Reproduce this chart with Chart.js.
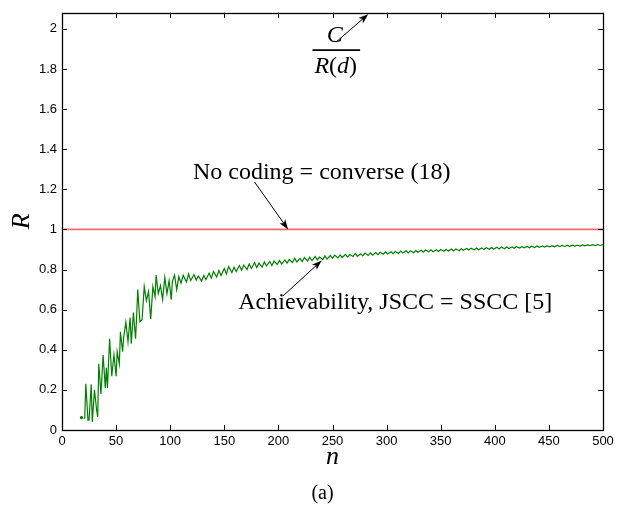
<!DOCTYPE html>
<html>
<head>
<meta charset="utf-8">
<script src="https://cdn.jsdelivr.net/npm/chart.js@4"></script>
<style>
  body { margin: 0; background: #fff; }
  #wrap { width: 630px; height: 510px; }
</style>
</head>
<body>
<div id="wrap"><canvas id="myChart" width="630" height="510"></canvas></div>
<script>
// achievability curve (n, R)
var nValues = [18, 19, 20, 21, 22, 24, 25, 27, 28, 30, 32, 33, 34, 36, 38, 40, 41, 42, 44, 46, 48, 50,
  51, 53, 54, 56, 57, 59, 61, 63, 64, 66, 68, 69, 70, 72, 74, 76, 78, 80, 82, 84, 86, 87, 89,
  91, 93, 95, 97, 99, 101, 102, 104, 106, 108, 110, 112, 115, 117, 119, 122, 124, 126, 129,
  131, 133, 136, 138, 140, 143, 145, 147, 150, 152, 154, 157, 159, 161, 164, 166, 168, 171,
  173, 175, 178, 180, 182, 185, 187, 189, 192, 194, 196, 199, 201, 203, 206, 208, 210, 213,
  215, 217, 220, 222, 224, 227, 229, 231, 234, 236, 238, 241, 243, 245, 248, 250, 252, 255,
  257, 259, 262, 264, 266, 269, 271, 273, 276, 278, 280, 283, 285, 287, 290, 292, 294, 297,
  299, 301, 304, 306, 308, 311, 313, 315, 318, 320, 322, 325, 327, 329, 332, 334, 336, 339,
  341, 343, 346, 348, 350, 353, 355, 357, 360, 362, 364, 367, 369, 371, 374, 376, 378, 381,
  383, 385, 388, 390, 392, 395, 397, 399, 402, 404, 406, 409, 411, 413, 416, 418, 420, 423,
  425, 427, 430, 432, 434, 437, 439, 441, 444, 446, 448, 451, 453, 455, 458, 460, 462, 465,
  467, 469, 472, 474, 476, 479, 481, 483, 486, 488, 490, 493, 495, 497, 500];
var rValues = [0.062, null, 0.057, 0.06, 0.23, 0.049, 0.05, 0.228, 0.04, 0.20, 0.10, 0.065, 0.33, 0.18, 0.374, 0.21, 0.31, 0.21, 0.455, 0.268, 0.375, 0.268,
  0.39, 0.33, 0.49, 0.39, 0.463, 0.537, 0.44, 0.56, 0.43, 0.585, 0.455, 0.57, 0.70, 0.54, 0.55, 0.715, 0.645, 0.69, 0.553, 0.715, 0.665, 0.772, 0.68,
  0.72, 0.65, 0.76, 0.68, 0.745, 0.65, 0.74, 0.772, 0.70, 0.765, 0.732, 0.772, 0.738, 0.778, 0.745, 0.775, 0.748, 0.768, 0.742,
  0.770, 0.750, 0.782, 0.757, 0.790, 0.762, 0.795, 0.770, 0.805, 0.778, 0.815, 0.785, 0.812, 0.790, 0.820, 0.796, 0.822, 0.800,
  0.828, 0.805, 0.835, 0.810, 0.832, 0.812, 0.838, 0.818, 0.840, 0.820, 0.842, 0.825, 0.845, 0.828, 0.848, 0.832, 0.850, 0.835,
  0.856, 0.838, 0.855, 0.840, 0.860, 0.843, 0.862, 0.845, 0.865, 0.848, 0.862, 0.850, 0.868, 0.852, 0.870, 0.856, 0.872, 0.858,
  0.873, 0.860, 0.876, 0.862, 0.875, 0.865, 0.880, 0.866, 0.879, 0.868, 0.882, 0.870, 0.884, 0.872, 0.885, 0.874, 0.886, 0.876,
  0.888, 0.878, 0.889, 0.879, 0.890, 0.880, 0.892, 0.882, 0.893, 0.883, 0.894, 0.884, 0.895, 0.886, 0.896, 0.887, 0.897, 0.888,
  0.898, 0.889, 0.899, 0.890, 0.900, 0.891, 0.900, 0.892, 0.902, 0.893, 0.903, 0.894, 0.904, 0.896, 0.905, 0.897, 0.906, 0.898,
  0.907, 0.899, 0.908, 0.900, 0.909, 0.901, 0.910, 0.902, 0.911, 0.903, 0.912, 0.904, 0.912, 0.905, 0.913, 0.906, 0.914, 0.907,
  0.915, 0.908, 0.915, 0.909, 0.916, 0.910, 0.917, 0.911, 0.918, 0.912, 0.918, 0.913, 0.919, 0.913, 0.920, 0.914, 0.920, 0.915,
  0.921, 0.916, 0.922, 0.916, 0.922, 0.917, 0.923, 0.918, 0.923, 0.919, 0.924, 0.919, 0.925, 0.920, 0.924];

// no coding = converse line
var conv_n = [0, 500];
var conv_r = [1, 1];

var xTickValues = [0, 50, 100, 150, 200, 250, 300, 350, 400, 450, 500];
var yTickValues = [0, 0.2, 0.4, 0.6, 0.8, 1, 1.2, 1.4, 1.6, 1.8, 2];

function pairs(xs, ys) {
  return xs.map(function (x, i) { return { x: x, y: ys[i] }; });
}

function arrow(ctx, x1, y1, x2, y2) {
  var ang = Math.atan2(y2 - y1, x2 - x1);
  var len = 10, w = 3.5;
  ctx.beginPath();
  ctx.moveTo(x1, y1);
  ctx.lineTo(x2 - Math.cos(ang) * len * 0.7, y2 - Math.sin(ang) * len * 0.7);
  ctx.stroke();
  ctx.beginPath();
  ctx.moveTo(x2, y2);
  ctx.lineTo(x2 - Math.cos(ang) * len - Math.sin(ang) * w, y2 - Math.sin(ang) * len + Math.cos(ang) * w);
  ctx.lineTo(x2 - Math.cos(ang) * len * 0.75, y2 - Math.sin(ang) * len * 0.75);
  ctx.lineTo(x2 - Math.cos(ang) * len + Math.sin(ang) * w, y2 - Math.sin(ang) * len - Math.cos(ang) * w);
  ctx.closePath();
  ctx.fill();
}

var serif = '"Liberation Serif", "Times New Roman", serif';
var sans = '"Liberation Sans", Arial, sans-serif';

var frame = {
  id: 'frame',
  afterDatasetsDraw: function (chart) {
    var ctx = chart.ctx, a = chart.chartArea;
    var xs = chart.scales.x, ys = chart.scales.y;
    var X = function (v) { return xs.getPixelForValue(v); };
    var Y = function (v) { return ys.getPixelForValue(v); };
    ctx.save();
    ctx.strokeStyle = '#000';
    ctx.fillStyle = '#000';
    ctx.lineWidth = 1;

    // inward ticks on all four sides
    ctx.beginPath();
    xs.ticks.forEach(function (t) {
      var px = Math.round(X(t.value)) + 0.5;
      ctx.moveTo(px, a.bottom); ctx.lineTo(px, a.bottom - 5);
      ctx.moveTo(px, a.top); ctx.lineTo(px, a.top + 5);
    });
    ys.ticks.forEach(function (t) {
      var py = Math.round(Y(t.value)) + 0.5;
      ctx.moveTo(a.left, py); ctx.lineTo(a.left + 5, py);
      ctx.moveTo(a.right, py); ctx.lineTo(a.right - 5, py);
    });
    ctx.stroke();
    ctx.lineWidth = 1.3;
    ctx.strokeRect(Math.round(a.left) + 0.5, Math.round(a.top) + 0.5,
      Math.round(a.right - a.left), Math.round(a.bottom - a.top));

    // annotations
    ctx.lineWidth = 1;
    ctx.textAlign = 'center';
    ctx.textBaseline = 'middle';
    ctx.font = '24px ' + serif;
    ctx.fillText('No coding = converse (18)', X(240), Y(1.284));
    arrow(ctx, X(178), Y(1.236), X(209), Y(1.0));
    ctx.fillText('Achievability, JSCC = SSCC [5]', X(308), Y(0.634));
    arrow(ctx, X(204), Y(0.667), X(240), Y(0.845));

    // C / R(d)
    ctx.font = 'italic 24px ' + serif;
    ctx.fillText('C', X(252), Y(1.967));
    ctx.lineWidth = 1.6;
    ctx.beginPath();
    ctx.moveTo(X(231.5), Y(1.894));
    ctx.lineTo(X(275.5), Y(1.894));
    ctx.stroke();
    var parts = [['R', 'italic '], ['(', ''], ['d', 'italic '], [')', '']];
    var total = 0;
    parts.forEach(function (p) { ctx.font = p[1] + '24px ' + serif; total += ctx.measureText(p[0]).width; });
    var cx = X(253) - total / 2;
    ctx.textAlign = 'left';
    parts.forEach(function (p) {
      ctx.font = p[1] + '24px ' + serif;
      ctx.fillText(p[0], cx, Y(1.81));
      cx += ctx.measureText(p[0]).width;
    });
    ctx.lineWidth = 1;
    arrow(ctx, X(253.5), Y(1.935), X(283), Y(2.073));

    // figure caption
    ctx.textAlign = 'center';
    ctx.font = '20px ' + serif;
    ctx.fillText('(a)', (a.left + a.right) / 2 - 10, 494);
    ctx.restore();
  }
};

var ctx = document.getElementById('myChart').getContext('2d');

new Chart(ctx, {
  type: 'line',
  data: {
    datasets: [{
      label: 'No coding = converse (18)',
      data: pairs(conv_n, conv_r),
      borderColor: '#ff6a6a',
      borderWidth: 1.6,
      pointRadius: 0,
      fill: false
    }, {
      label: 'Achievability, JSCC = SSCC [5]',
      data: pairs(nValues, rValues),
      borderColor: '#008000',
      backgroundColor: '#008000',
      borderWidth: 1.2,
      pointRadius: function (c) { return c.dataIndex === 0 ? 1 : 0; },
      spanGaps: false,
      fill: false,
      tension: 0
    }]
  },
  options: {
    responsive: false,
    animation: false,
    devicePixelRatio: 1,
    layout: { padding: { top: 4, right: 27, left: 0, bottom: 0 } },
    plugins: {
      legend: { display: false },
      tooltip: { enabled: false }
    },
    scales: {
      x: {
        type: 'linear',
        min: 0,
        max: 500,
        afterBuildTicks: function (s) { s.ticks = xTickValues.map(function (v) { return { value: v }; }); },
        afterFit: function (s) { s.height = 80; },
        grid: { display: false, drawTicks: false },
        border: { display: false },
        ticks: {
          color: '#000',
          padding: 4,
          maxRotation: 0,
          autoSkip: false,
          font: { family: sans, size: 13 }
        },
        title: {
          display: true,
          text: 'n',
          color: '#000',
          padding: { bottom: 37 },
          font: { family: serif, size: 26, style: 'italic' }
        }
      },
      y: {
        type: 'linear',
        min: 0,
        max: 2.08,
        afterBuildTicks: function (s) { s.ticks = yTickValues.map(function (v) { return { value: v }; }); },
        afterFit: function (s) { s.width = 62; },
        grid: { display: false, drawTicks: false },
        border: { display: false },
        ticks: {
          color: '#000',
          padding: 5,
          autoSkip: false,
          callback: function (v) { return String(Math.round(v * 10) / 10); },
          font: { family: sans, size: 13 }
        },
        title: {
          display: true,
          text: 'R',
          color: '#000',
          padding: { top: 7 },
          font: { family: serif, size: 26, style: 'italic' }
        }
      }
    }
  },
  plugins: [frame]
});
</script>
</body>
</html>
